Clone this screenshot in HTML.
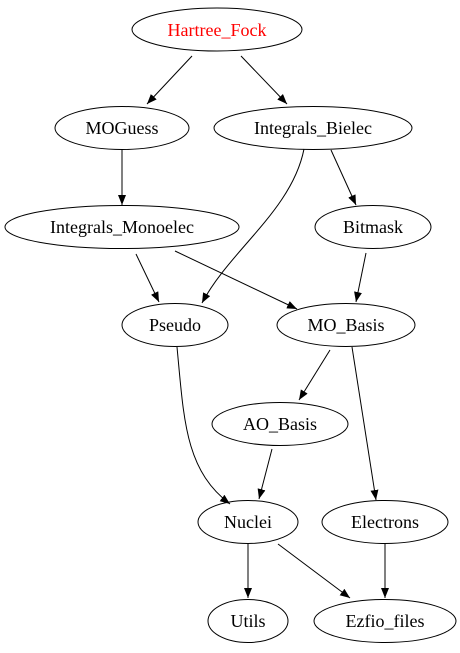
<!DOCTYPE html>
<html><head><meta charset="utf-8"><style>
html,body{margin:0;padding:0;background:#fff;}
svg{display:block;}
text{font-family:"Liberation Serif",serif;font-size:18px;text-anchor:middle;dominant-baseline:central;}
ellipse{fill:none;stroke:#000;stroke-width:1;}
.e{fill:none;stroke:#000;stroke-width:1;marker-end:url(#a);}
</style></head><body>
<svg width="460" height="653" viewBox="0 0 460 653" xmlns="http://www.w3.org/2000/svg">
<defs><marker id="a" markerWidth="10" markerHeight="8" refX="10" refY="4" orient="auto" markerUnits="userSpaceOnUse"><path d="M0,0 L10,4 L0,8 z" fill="#000"/></marker></defs>
<ellipse cx="217" cy="29.5" rx="85" ry="21.5"/><text x="217" y="30" fill="red">Hartree_Fock</text>
<ellipse cx="122" cy="128" rx="67" ry="21.5"/><text x="122" y="128">MOGuess</text>
<ellipse cx="313" cy="128" rx="99" ry="21.5"/><text x="313" y="128">Integrals_Bielec</text>
<ellipse cx="122" cy="227" rx="117" ry="21.5"/><text x="122" y="227">Integrals_Monoelec</text>
<ellipse cx="373" cy="227" rx="58" ry="21.5"/><text x="373" y="227">Bitmask</text>
<ellipse cx="175" cy="325" rx="53" ry="21.5"/><text x="175" y="325">Pseudo</text>
<ellipse cx="346" cy="325" rx="69" ry="21.5"/><text x="346" y="325">MO_Basis</text>
<ellipse cx="280" cy="424" rx="68" ry="21.5"/><text x="280" y="424">AO_Basis</text>
<ellipse cx="248" cy="522" rx="50" ry="21.5"/><text x="248" y="522">Nuclei</text>
<ellipse cx="385" cy="522" rx="63" ry="21.5"/><text x="385" y="522">Electrons</text>
<ellipse cx="248" cy="621" rx="40" ry="21.5"/><text x="248" y="621">Utils</text>
<ellipse cx="385" cy="621" rx="71" ry="21.5"/><text x="385" y="621">Ezfio_files</text>
<path class="e" d="M192,56 L147,104"/>
<path class="e" d="M241,56 L287,104"/>
<path class="e" d="M122,150 L122,205"/>
<path class="e" d="M331,150 L356,205"/>
<path class="e" d="M304,149 C292,210 230,250 202,303"/>
<path class="e" d="M136,254 L159,302"/>
<path class="e" d="M175,251 L297,309"/>
<path class="e" d="M366,253 L356,302"/>
<path class="e" d="M330,350 L299,400"/>
<path class="e" d="M352,347 L376,500"/>
<path class="e" d="M177,347 C184,420 185,470 230,504"/>
<path class="e" d="M272,449 L259,499"/>
<path class="e" d="M248,544 L248,598"/>
<path class="e" d="M278,544 L350,598"/>
<path class="e" d="M385,544 L385,598"/>
</svg>
</body></html>
